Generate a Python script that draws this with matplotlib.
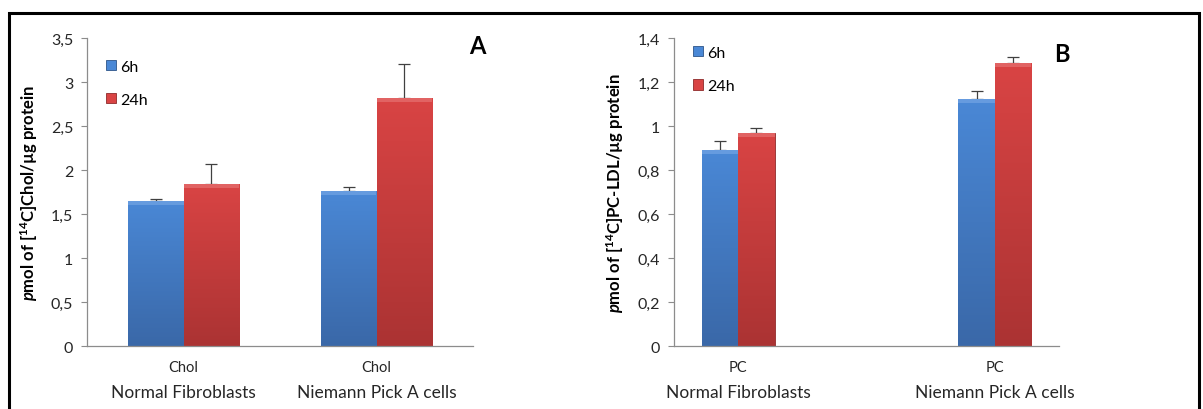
import numpy as np
import matplotlib
matplotlib.use("Agg")
import matplotlib.pyplot as plt
from matplotlib.colors import LinearSegmentedColormap
from matplotlib.patches import Rectangle

# ---- data ----
groups = ["Normal Fibroblasts", "Niemann Pick A cells"]
series = ["6h", "24h"]

chol_6h = [1.655, 1.76]
chol_24h = [1.84, 2.82]
chol_6h_err = [0.02, 0.05]
chol_24h_err = [0.23, 0.39]

pc_6h = [0.894, 1.125]
pc_24h = [0.968, 1.286]
pc_6h_err = [0.04, 0.037]
pc_24h_err = [0.025, 0.027]

chol_ticks = [0, 0.5, 1, 1.5, 2, 2.5, 3, 3.5]
pc_ticks = [0, 0.2, 0.4, 0.6, 0.8, 1.0, 1.2, 1.4]

# ---- style ----
FONT = "Lato"
plt.rcParams["font.family"] = [FONT, "DejaVu Sans"]
plt.rcParams["mathtext.fontset"] = "custom"
plt.rcParams["mathtext.rm"] = f"{FONT}:bold"
plt.rcParams["mathtext.it"] = f"{FONT}:italic:bold"
plt.rcParams["mathtext.bf"] = f"{FONT}:bold"

BLUE = ("#3a68a8", "#4a88d6", "#7aaae6")   # bottom, top, bevel highlight
RED = ("#ab3333", "#d94444", "#e87a7a")
AXIS_GRAY = "#8c8c8c"
TEXT = "#262626"

W, H = 1203, 410
fig = plt.figure(figsize=(W / 100, H / 100), dpi=100)


def px_axes(x0, x1, y_top, y_bot):
    return fig.add_axes([x0 / W, 1 - y_bot / H, (x1 - x0) / W, (y_bot - y_top) / H])


def shade_bars(ax, container, colors, ymax):
    cmap = LinearSegmentedColormap.from_list("g", [colors[0], colors[1]])
    grad = np.linspace(0, 1, 256).reshape(-1, 1)
    bevel = ymax * 4 / 308  # ~4 px highlight band at the top of each bar
    for rect in container.patches:
        x0, y0 = rect.get_x(), rect.get_y()
        w, h = rect.get_width(), rect.get_height()
        im = ax.imshow(grad, cmap=cmap, origin="lower", aspect="auto",
                       extent=[x0, x0 + w, y0, y0 + h], zorder=2.1,
                       interpolation="bilinear")
        im.set_clip_path(rect)
        ax.add_patch(Rectangle((x0, y0 + h - bevel), w, bevel,
                               facecolor=colors[2], edgecolor="none",
                               alpha=0.6, zorder=2.2))


def panel(ax, v6, v24, e6, e24, width, xlim, ticks, ymax, sub, ylabel,
          leg_anchor):
    x = np.arange(len(groups))
    b6 = ax.bar(x - width / 2, v6, width, color=BLUE[1], edgecolor="#2d5588",
                linewidth=0.6, zorder=2, label=series[0])
    b24 = ax.bar(x + width / 2, v24, width, color=RED[1], edgecolor="#8e2a2a",
                 linewidth=0.6, zorder=2, label=series[1])
    shade_bars(ax, b6, BLUE, ymax)
    shade_bars(ax, b24, RED, ymax)
    for xs, vals, errs in ((x - width / 2, v6, e6), (x + width / 2, v24, e24)):
        ax.errorbar(xs, vals, yerr=[np.zeros(len(errs)), errs], fmt="none",
                    ecolor="#404040", elinewidth=0.9, capsize=4,
                    capthick=0.9, zorder=1.5)
    ax.set_xlim(*xlim)
    ax.set_ylim(0, ymax)
    ax.set_yticks(ticks)
    ax.set_yticklabels([f"{t:g}".replace(".", ",") for t in ticks],
                       fontsize=11.5, color=TEXT)
    ax.set_xticks(x)
    ax.set_xticklabels([sub] * len(groups), fontsize=10.5, color=TEXT)
    ax.tick_params(axis="x", length=0, pad=10)
    ax.tick_params(axis="y", length=4, width=0.8, color=AXIS_GRAY, pad=6)
    for side in ("top", "right"):
        ax.spines[side].set_visible(False)
    for side in ("left", "bottom"):
        ax.spines[side].set_color(AXIS_GRAY)
        ax.spines[side].set_linewidth(0.9)
    for xi, g in zip(x, groups):
        ax.annotate(g, xy=(xi, 0), xycoords=("data", "axes fraction"),
                    xytext=(0, -46), textcoords="offset pixels",
                    ha="center", va="center", fontsize=12.5, color=TEXT)
    ax.set_ylabel(ylabel, fontsize=12, fontweight="bold", color="black",
                  labelpad=8)
    ax.legend(handles=[b6, b24], loc="upper left", bbox_to_anchor=leg_anchor,
              frameon=False, fontsize=11.5, handlelength=0.6,
              handleheight=0.6, handletextpad=0.25, labelspacing=1.2,
              borderaxespad=0, borderpad=0)


axA = px_axes(87, 473, 39.3, 347.3)
panel(axA, chol_6h, chol_24h, chol_6h_err, chol_24h_err, 0.2875,
      (-0.5, 1.5), chol_ticks, 3.5, "Chol",
      r"$\mathit{p}$mol of [$^{14}$C]Chol/µg protein", (0.05, 0.93))

axB = px_axes(674, 1059, 39.3, 347.3)
panel(axB, pc_6h, pc_24h, pc_6h_err, pc_24h_err, 0.1426,
      (-0.25, 1.25), pc_ticks, 1.4, "PC",
      r"$\mathit{p}$mol of [$^{14}$C]PC-LDL/µg protein", (0.05, 0.975))

fig.text(477 / W, 1 - 47 / H, "A", fontsize=17, fontweight="bold",
         ha="center", va="center")
fig.text(1062 / W, 1 - 55 / H, "B", fontsize=17, fontweight="bold",
         ha="center", va="center")

# outer frame
fig.add_artist(Rectangle((9 / W, -0.05), (1199 - 9) / W, 1.05 - 14 / H,
                         transform=fig.transFigure, fill=False,
                         edgecolor="black", linewidth=2.2))

fig.savefig("out.png", dpi=100)
